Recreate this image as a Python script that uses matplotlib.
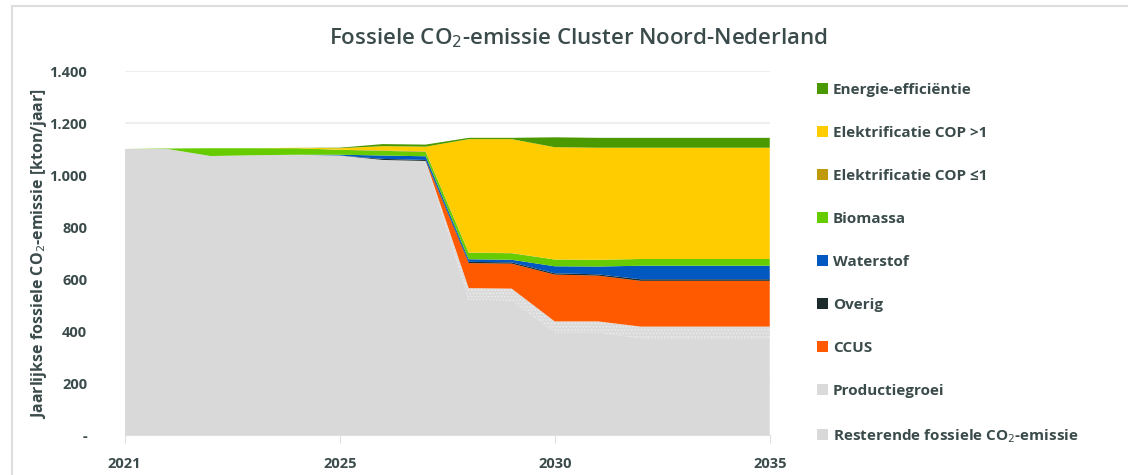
import numpy as np
import matplotlib.pyplot as plt
from matplotlib.patches import Patch, Rectangle

plt.rcParams['font.family'] = ['Open Sans', 'DejaVu Sans']
plt.rcParams['hatch.color'] = '#ececec'
plt.rcParams['hatch.linewidth'] = 0.8

# 16 points on a category axis, labelled at 0, 5, 10 and 15
n_points = 16
tick_labels = ['2021', '2025', '2030', '2035']

resterende = [1100, 1100, 1073, 1076, 1078, 1075, 1058, 1054, 520, 518, 395, 395, 372, 372, 372, 372]
productiegroei = [0, 0, 0, 0, 0, 0, 0, 0, 45, 45, 42, 42, 45, 45, 45, 45]
ccus = [0, 0, 0, 0, 0, 0, 0, 0, 96, 96, 180, 176, 176, 176, 176, 176]
overig = [0, 0, 0, 0, 0, 0, 4, 4, 5, 5, 5, 5, 6, 6, 6, 6]
waterstof = [0, 0, 0, 0, 0, 3, 13, 14, 10, 10, 27, 30, 52, 52, 52, 52]
biomassa = [0, 2, 30, 27, 25, 19, 18, 17, 25, 25, 26, 26, 26, 26, 26, 26]
cop_le1 = [0, 0, 0, 0, 0, 0, 2, 2, 1, 1, 0, 0, 0, 0, 0, 0]
cop_gt1 = [0, 0, 0, 0, 2, 6, 16, 18, 436, 438, 432, 431, 428, 428, 428, 428]
energie = [0, 0, 0, 0, 0, 2, 8, 8, 5, 5, 38, 38, 38, 38, 38, 38]

series = [resterende, productiegroei, ccus, overig, waterstof, biomassa, cop_le1, cop_gt1, energie]
labels = ['Resterende fossiele CO$_2$-emissie', 'Productiegroei', 'CCUS', 'Overig', 'Waterstof',
          'Biomassa', 'Elektrificatie COP ≤1', 'Elektrificatie COP >1', 'Energie-efficiëntie']
colors = ['#d9d9d9', '#dadada', '#ff5a00', '#1c2b2b', '#0058c0',
          '#66cc00', '#bf9a0a', '#ffcc00', '#4a9900']

txt = '#3b4b4b'

fig = plt.figure(figsize=(11.28, 4.75), dpi=100)
ax = fig.add_axes([0.1105, 0.0842, 0.5719, 0.7663])

x = np.arange(n_points)
polys = ax.stackplot(x, *series, colors=colors, lw=0)
polys[1].set_hatch('.....')
polys[1].set_edgecolor('#ececec')

ax.set_xlim(0, n_points - 1)
ax.set_ylim(0, 1400)
ax.set_yticks(np.arange(0, 1401, 200))
ax.set_yticklabels(['-', '200', '400', '600', '800', '1.000', '1.200', '1.400'])
ax.set_xticks(np.linspace(0, n_points - 1, len(tick_labels)))
ax.set_xticklabels(tick_labels)
ax.yaxis.grid(True, color='#eeeeee', lw=1.5)
ax.set_axisbelow(True)
for s in ['top', 'right', 'left']:
    ax.spines[s].set_visible(False)
ax.spines['bottom'].set_color('#e0e0e0')
ax.tick_params(axis='y', length=0, pad=27, labelsize=10.5, labelcolor=txt)
ax.tick_params(axis='x', length=6, color='#e0e0e0', pad=10, labelsize=10.5, labelcolor=txt)
for t in ax.get_xticklabels() + ax.get_yticklabels():
    t.set_fontweight('bold')

ax.set_ylabel('Jaarlijkse fossiele CO$_2$-emissie [kton/jaar]', fontsize=11.5,
              color=txt, fontweight='bold')
ax.yaxis.set_label_coords(-0.117, 0.5)

fig.text(0.513, 0.92, 'Fossiele CO$_2$-emissie Cluster Noord-Nederland', ha='center',
         va='center', fontsize=16, color=txt, fontweight='semibold')

handles = [Patch(facecolor=c, edgecolor='none') for c in colors]
leg = fig.legend(handles[::-1], labels[::-1], loc='upper left', bbox_to_anchor=(0.712, 0.855),
                 frameon=False, fontsize=11, handlelength=0.7, handleheight=0.7,
                 handletextpad=0.35, labelspacing=1.9)
for t in leg.get_texts():
    t.set_color(txt)
    t.set_fontweight('bold')

# light frame around the chart
fig.patches.append(Rectangle((0.011, -0.01), 1.0, 0.998, transform=fig.transFigure,
                             fill=False, edgecolor='#dddddd', lw=1.5))

fig.savefig('out.png', dpi=100)
